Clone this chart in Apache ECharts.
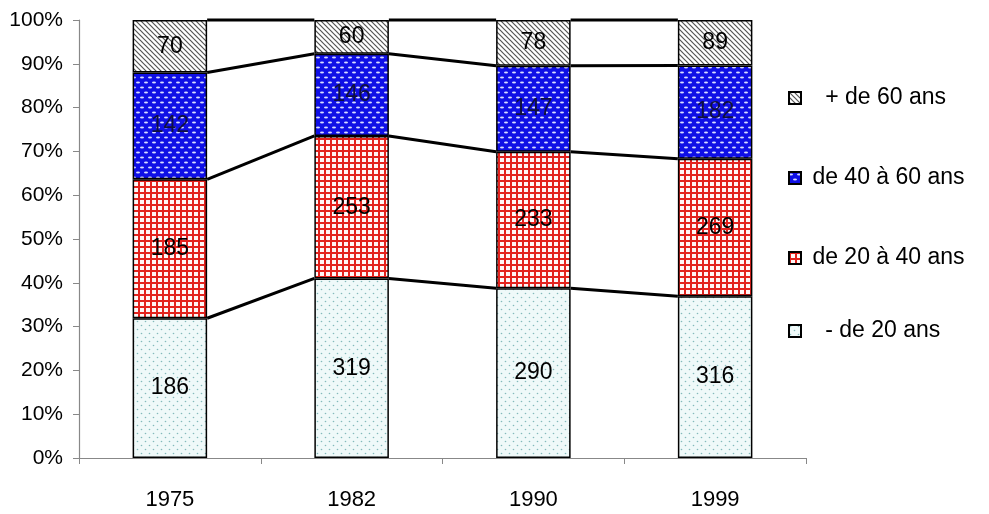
<!DOCTYPE html>
<html><head><meta charset="utf-8">
<script src="https://cdn.jsdelivr.net/npm/echarts@6/dist/echarts.min.js"></script>
<style>html,body{margin:0;padding:0;background:#fff}#c{width:989px;height:514px}</style>
</head><body><div id="c"></div>
<script>
// ---- data ----
const categories = ['1975', '1982', '1990', '1999'];
const seriesNames = ['- de 20 ans', 'de 20 à 40 ans', 'de 40 à 60 ans', '+ de 60 ans'];
const moins20 = [186, 319, 290, 316];
const de20a40 = [185, 253, 233, 269];
const de40a60 = [142, 146, 147, 182];
const plus60 = [70, 60, 78, 89];
const yTickValues = [0, 10, 20, 30, 40, 50, 60, 70, 80, 90, 100];

// ---- derived ----
const stacks = [moins20, de20a40, de40a60, plus60];
const totals = categories.map((_, i) => stacks.reduce((s, a) => s + a[i], 0));
const pct = stacks.map(a => a.map((v, i) => v / totals[i] * 100));
const cum = categories.map((_, i) => { let s = 0; return stacks.map(a => { s += a[i]; return s / totals[i] * 100; }); });

const FONT = 'Liberation Sans, Arial, sans-serif';
const BAR_FRAC = 0.41;

function tile(w, h, draw) {
  const c = document.createElement('canvas'); c.width = w; c.height = h;
  draw(c.getContext('2d'), w, h); return c;
}
const pDots = tile(8, 8, (g, w, h) => {
  g.fillStyle = '#eff9f9'; g.fillRect(0, 0, w, h);
  g.fillStyle = '#84b9bb';
  g.beginPath(); g.arc(1.5, 1.5, 0.8, 0, Math.PI * 2); g.fill();
  g.beginPath(); g.arc(5.5, 5.5, 0.8, 0, Math.PI * 2); g.fill();
});
const pGrid = tile(6, 6, (g, w, h) => {
  g.fillStyle = '#fff6f6'; g.fillRect(0, 0, w, h);
  g.fillStyle = '#e3231e'; g.fillRect(0, 0, w, 2); g.fillRect(0, 0, 2, h);
});
const pBlue = tile(8, 10, (g, w, h) => {
  g.fillStyle = '#0f0fe6'; g.fillRect(0, 0, w, h);
  g.fillStyle = '#d8dcff';
  g.beginPath(); g.ellipse(2, 2.5, 2, 0.9, 0, 0, Math.PI * 2); g.fill();
  g.beginPath(); g.ellipse(6, 7.5, 2, 0.9, 0, 0, Math.PI * 2); g.fill();
});
const pDiag = tile(5, 5, (g, w, h) => {
  g.fillStyle = '#ffffff'; g.fillRect(0, 0, w, h);
  g.strokeStyle = '#555'; g.lineWidth = 1.2;
  [-5, 0, 5].forEach(o => { g.beginPath(); g.moveTo(o - 1, -1); g.lineTo(o + 6, 6); g.stroke(); });
});
const patterns = [pDots, pGrid, pBlue, pDiag];

const chart = echarts.init(document.getElementById('c'), null, { renderer: 'canvas' });

const barSeries = seriesNames.map((name, k) => ({
  name, type: 'bar', stack: 'total', barWidth: (BAR_FRAC * 100) + '%',
  data: pct[k],
  itemStyle: { color: { image: patterns[k], repeat: 'repeat' }, borderColor: '#000', borderWidth: 1.5 },
  label: {
    show: true, position: 'inside', color: k === 2 ? '#101040' : '#000', fontSize: 23, fontFamily: FONT,
    textBorderWidth: 0,
    formatter: p => String(stacks[k][p.dataIndex])
  },
  emphasis: { disabled: true }
}));

const lineSeries = {
  type: 'custom', silent: true, z: 5,
  data: categories.slice(0, -1).map((_, i) => [i, 0]),
  encode: { x: 0, y: 1 },
  renderItem: (params, api) => {
    const i = api.value(0);
    const hw = api.size([1, 0])[0] * BAR_FRAC / 2;
    const children = cum[i].map((v, k) => {
      const a = api.coord([i, v]); const b = api.coord([i + 1, cum[i + 1][k]]);
      return { type: 'line', shape: { x1: a[0] + hw, y1: a[1], x2: b[0] - hw, y2: b[1] },
        style: { stroke: '#000', lineWidth: 3 } };
    });
    return { type: 'group', children };
  }
};

const legendCenters = [98, 178, 258, 331];
const legendOrder = seriesNames.slice().reverse();

chart.setOption({
  animation: false,
  backgroundColor: '#fff',
  grid: { left: 79, right: 183, top: 20, bottom: 56, containLabel: false },
  xAxis: {
    type: 'category', data: categories,
    axisLine: { lineStyle: { color: '#888', width: 1.2 } },
    axisTick: { show: true, alignWithLabel: false, length: 6, lineStyle: { color: '#888' } },
    axisLabel: { color: '#000', fontSize: 22, fontFamily: FONT, margin: 31 }
  },
  yAxis: {
    type: 'value', min: 0, max: 100, interval: 10,
    axisLine: { show: true, lineStyle: { color: '#888', width: 1.2 } },
    axisTick: { show: true, length: 6, lineStyle: { color: '#888' } },
    splitLine: { show: false },
    axisLabel: { color: '#000', fontSize: 21, fontFamily: FONT, margin: 16,
      formatter: v => (yTickValues.includes(v) ? v + '%' : '') }
  },
  legend: legendOrder.map((n, j) => ({
    data: [n], orient: 'vertical', left: 783, top: legendCenters[j] - 17,
    icon: 'rect', itemWidth: 12, itemHeight: 12, selectedMode: false,
    formatter: name => (/^[+-]/.test(name) ? '   ' : ' ') + name,
    textStyle: { color: '#000', fontSize: 23, lineHeight: 24, fontFamily: FONT }
  })),
  series: [...barSeries, lineSeries]
});
</script>
</body></html>
